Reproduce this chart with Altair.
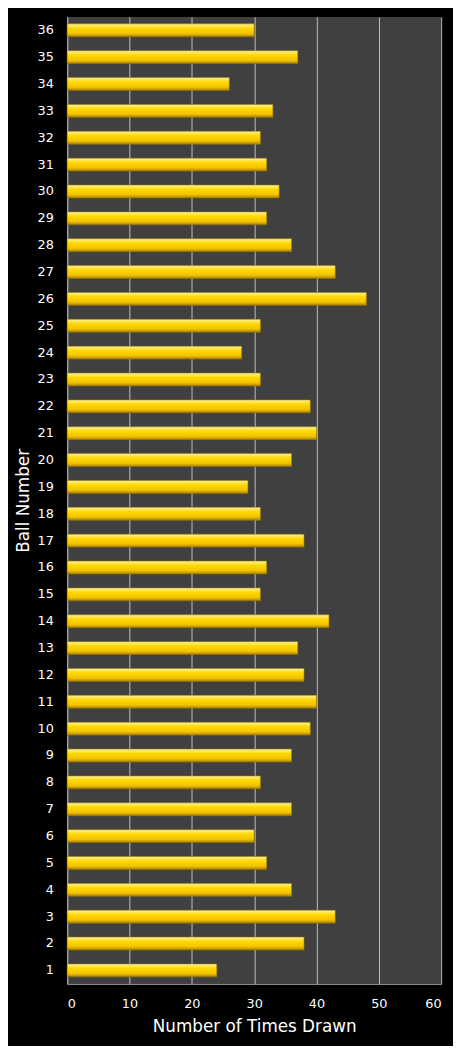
import altair as alt
import pandas as pd

balls = list(range(1, 37))
times_drawn = [24, 38, 43, 36, 32, 30, 36, 31, 36, 39,
               40, 38, 37, 42, 31, 32, 38, 31, 29, 36,
               40, 39, 31, 28, 31, 48, 43, 36, 32, 34,
               32, 31, 33, 26, 37, 30]

data = pd.DataFrame({"ball": balls, "times": times_drawn})

gold = alt.Gradient(
    gradient="linear",
    x1=0, y1=0, x2=0, y2=1,
    stops=[
        alt.GradientStop(color="#FFF3A0", offset=0),
        alt.GradientStop(color="#FFD800", offset=0.35),
        alt.GradientStop(color="#F2C200", offset=0.75),
        alt.GradientStop(color="#A88000", offset=1),
    ],
)

chart = alt.Chart(data).mark_bar(
    color=gold, stroke="#9A7A00", strokeWidth=0.6
).encode(
    x=alt.X("times:Q", title="Number of Times Drawn",
            scale=alt.Scale(domain=[0, 60], nice=False),
            axis=alt.Axis(values=[0, 10, 20, 30, 40, 50, 60], grid=True,
                          gridColor="#BFBFBF", gridWidth=1, ticks=False,
                          domainColor="#A6A6A6", labelPadding=14,
                          titlePadding=8)),
    y=alt.Y("ball:O", title="Ball Number", sort="descending",
            scale=alt.Scale(paddingInner=0.52, paddingOuter=0.26),
            axis=alt.Axis(grid=False, ticks=False, domainColor="#A6A6A6",
                          labelPadding=14, titlePadding=5)),
).properties(
    width=379,
    height=980,
    background="black",
    padding={"left": 6, "top": 2, "right": 12, "bottom": 5},
).configure_view(
    fill="#404040", stroke=None
).configure_axis(
    labelColor="white", titleColor="white",
    labelFont="DejaVu Sans", titleFont="DejaVu Sans",
    labelFontSize=13, titleFontSize=17, titleFontWeight="normal",
    labelAngle=0,
)

chart.save("out.html", embed_options={"renderer": "svg", "actions": False})
